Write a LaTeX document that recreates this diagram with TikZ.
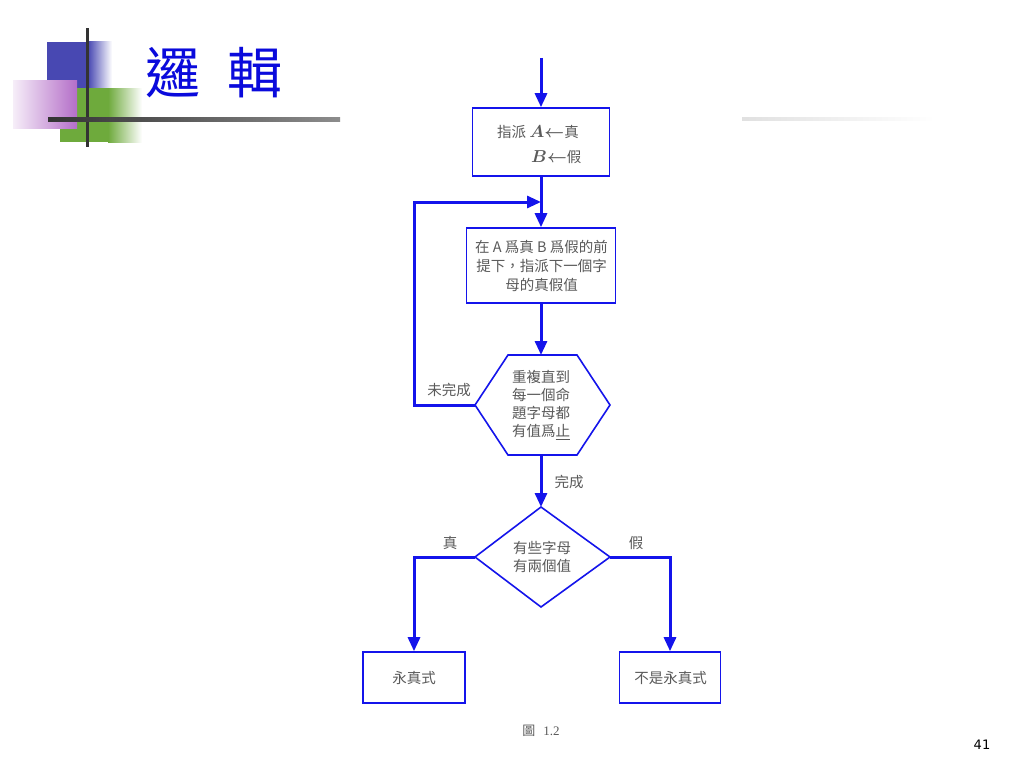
\documentclass[tikz,border=0pt]{standalone}
\usepackage{fontspec}
\setmainfont{Liberation Serif}
\newfontfamily\cjk{Noto Sans CJK TC}
\newfontfamily\numfont{DejaVu Sans}
\usetikzlibrary{arrows.meta}
\definecolor{flowblue}{RGB}{20,20,235}
\definecolor{txtgray}{RGB}{90,90,90}
\definecolor{titleblue}{RGB}{10,10,220}
\definecolor{sqblue}{RGB}{72,72,178}
\definecolor{sqgreen}{RGB}{110,170,60}
\definecolor{sqpink}{RGB}{180,110,200}
\tikzset{
  box/.style={draw=flowblue,line width=1.6pt,fill=white,inner sep=0pt},
  lbl/.style={text=txtgray,font=\cjk\fontsize{14.5}{19}\selectfont,align=center,inner sep=0pt},
  conn/.style={draw=flowblue,line width=3pt,-{Triangle[length=14pt,width=12pt]}},
}
\begin{document}
\begin{tikzpicture}[x=1pt,y=-1pt]
\useasboundingbox (0,0) rectangle (1024,768);
\fill[white] (0,0) rectangle (1024,768);
% decoration squares
\fill[sqblue] (47,42) rectangle (88,88);
\shade[left color=sqblue,right color=white] (88,42) rectangle (112,88);
\fill[sqgreen] (60,88) rectangle (108,142);
\shade[left color=sqgreen,right color=white] (108,88) rectangle (142,142);
\shade[left color=sqpink!12,right color=sqpink] (13,80) rectangle (77,128);
\fill[black!80] (85.5,28) rectangle (88.5,147);
\shade[left color=black!80,right color=black!45] (48,117) rectangle (340,121);
\shade[left color=black!12,right color=white] (742,117.5) rectangle (935,120.5);
% title
\node[text=titleblue,font=\cjk\fontsize{55}{60}\selectfont,inner sep=0pt] (title) at (214,73) {邏\hspace{0.5em}輯};
% flowchart
\coordinate (start) at (541,58);
\node[box,minimum width=137pt,minimum height=68pt] (b1) at (541,142) {};
\node[lbl,anchor=west] (b1t1) at (497,132) {指派 {\fontsize{16}{18}\selectfont\boldmath$A$$\leftarrow$}真};
\node[lbl,anchor=west] (b1t2) at (531,157) {{\fontsize{16}{18}\selectfont\boldmath$B$$\leftarrow$}假};
\node[box,minimum width=149pt,minimum height=75pt] (b2) at (541,265.5) {};
\node[lbl] (b2t) at (541.5,265.5) {在 A 爲真 B 爲假的前\\提下，指派下一個字\\母的真假值};
\draw[box] (508,355) -- (577,355) -- (610,405) -- (577,455) -- (508,455) -- (475,405) -- cycle;
\coordinate (hextop) at (541,355);
\coordinate (hexbot) at (541,455);
\coordinate (hexleft) at (475,405);
\node[lbl,font=\cjk\fontsize{14.5}{18}\selectfont] (hext) at (541,405) {重複直到\\每一個命\\題字母都\\有值爲\underline{止}};
\draw[box] (541,507) -- (610,557) -- (541,607) -- (475,557) -- cycle;
\coordinate (dtop) at (541,507);
\coordinate (dleft) at (475,557);
\coordinate (dright) at (610,557);
\node[lbl,font=\cjk\fontsize{14.5}{18}\selectfont] (dt) at (542,557) {有些字母\\有兩個值};
\node[box,minimum width=102pt,minimum height=51pt] (b3) at (414,677.5) {};
\node[lbl] (b3t) at (414,677.5) {永真式};
\node[box,minimum width=101pt,minimum height=51pt] (b4) at (670,677.5) {};
\node[lbl] (b4t) at (670.5,677.5) {不是永真式};
% connectors
\coordinate (loopA) at (414,405);
\coordinate (loopB) at (414,202);
\coordinate (loopC) at (541,202);
\coordinate (lA) at (414,557);
\coordinate (rA) at (670,557);
\draw[conn] (start) -- (b1.north);
\draw[conn] (b1.south) -- (b2.north);
\draw[conn] (hexleft) -- (loopA) -- (loopB) -- (loopC);
\draw[conn] (b2.south) -- (hextop);
\draw[conn] (hexbot) -- (dtop);
\draw[conn] (dleft) -- (lA) -- (b3.north);
\draw[conn] (dright) -- (rA) -- (b4.north);
% labels
\node[lbl] (notdone) at (449,390) {未完成};
\node[lbl] (done) at (569,482) {完成};
\node[lbl] (tlbl) at (450,543) {真};
\node[lbl] (flbl) at (636,543) {假};
\node[lbl,font=\cjk\fontsize{13}{14}\selectfont] (cap) at (541,731) {圖\hspace{0.6em}\textrm{1.2}};
\node[font=\numfont\fontsize{13}{15}\selectfont,inner sep=0pt] (pnum) at (982,745) {41};
\end{tikzpicture}
\end{document}
